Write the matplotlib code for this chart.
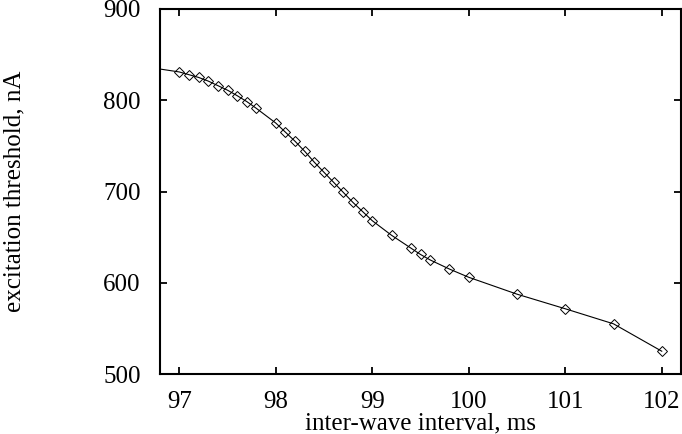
import matplotlib
matplotlib.use("Agg")
import matplotlib.pyplot as plt

# inter-wave interval (ms) and excitation threshold (nA)
interval = [96.5, 97.0, 97.1, 97.2, 97.3, 97.4, 97.5, 97.6, 97.7, 97.8,
            98.0, 98.1, 98.2, 98.3, 98.4, 98.5, 98.6, 98.7, 98.8, 98.9,
            99.0, 99.2, 99.4, 99.5, 99.6, 99.8, 100.0, 100.5, 101.0, 101.5, 102.0]
threshold = [839, 831, 828, 825, 821, 816, 811, 805, 798.5, 791,
             775, 765, 755, 744, 732, 721, 710, 699, 688, 678,
             668, 652, 638, 631, 625, 615, 606, 587.5, 571.5, 555, 525]

xticks = [97, 98, 99, 100, 101, 102]
yticks = [500, 600, 700, 800, 900]

plt.rcParams['font.family'] = ['Liberation Serif', 'DejaVu Serif']

fig = plt.figure(figsize=(6.82, 4.34), dpi=100)
ax = fig.add_axes([0.2346, 0.1382, 0.764, 0.8411])

ax.plot(interval, threshold, color='black', linewidth=0.8,
        marker='D', markersize=4.8, markerfacecolor='none',
        markeredgecolor='black', markeredgewidth=0.7)

ax.set_xlim(96.8, 102.2)
ax.set_ylim(500, 900)
ax.set_xticks(xticks)
ax.set_yticks(yticks)
ax.tick_params(direction='in', length=5, width=1.3, labelsize=18, pad=12,
               top=True, right=True)
ax.tick_params(axis='y', pad=14)
for s in ax.spines.values():
    s.set_linewidth(1.5)

ax.set_xlabel('inter-wave interval, ms', fontsize=18, labelpad=0)
ax.set_ylabel('excitation threshold, nA', fontsize=18, labelpad=56)

fig.savefig('out.png', dpi=100)
